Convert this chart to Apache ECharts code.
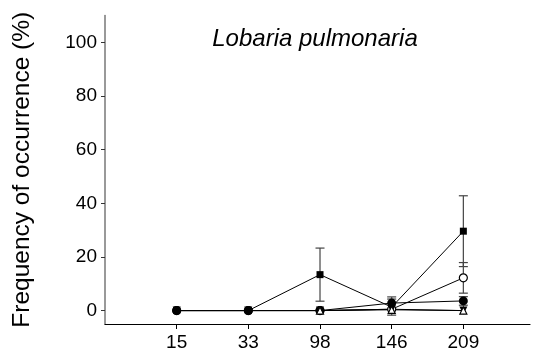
<!DOCTYPE html>
<html>
<head>
<meta charset="utf-8">
<script src="https://cdn.jsdelivr.net/npm/echarts@6/dist/echarts.min.js"></script>
<style>
  html, body { margin: 0; padding: 0; background: #fff; }
  #chart { width: 534px; height: 354px; }
</style>
</head>
<body>
<div id="chart"></div>
<script>
// Sampling sites (x categories)
const categories = ['15', '33', '98', '146', '209'];
const yTicks = [0, 20, 40, 60, 80, 100];

// Frequency of occurrence (%) per marker type, with error half-widths
const squareVals   = [0, 0, 13.4, 1.3, 29.6];
const squareErr    = [0, 0, 9.9, 3.0, 13.2];
const openCircVals = [0, 0, 0, 0.5, 12.2];
const openCircErr  = [0, 0, 0, 0, 5.7];
const fillCircVals = [0, 0, 0, 2.8, 3.6];
const fillCircErr  = [0, 0, 0, 2.3, 1.6];
const downTriVals  = [0, 0, 0, 0.5, 0];
const openTriVals  = [null, null, 0, 0.3, 0];

const toPoints = vals => vals.map((v, i) => [i + 1, v]);

function errorData(vals, errs) {
  const out = [];
  vals.forEach((v, i) => {
    if (v != null && errs[i] > 0) out.push([i + 1, v - errs[i], v + errs[i]]);
  });
  return out;
}

const errorRows = []
  .concat(errorData(squareVals, squareErr))
  .concat(errorData(openCircVals, openCircErr))
  .concat(errorData(fillCircVals, fillCircErr));

function renderErrorBar(params, api) {
  const x = api.value(0);
  const lo = api.coord([x, api.value(1)]);
  const hi = api.coord([x, api.value(2)]);
  const half = 4.5;
  const style = { stroke: '#444', lineWidth: 1.2, fill: null };
  return {
    type: 'group',
    children: [
      { type: 'line', shape: { x1: hi[0], y1: hi[1], x2: lo[0], y2: lo[1] }, style },
      { type: 'line', shape: { x1: hi[0] - half, y1: hi[1], x2: hi[0] + half, y2: hi[1] }, style },
      { type: 'line', shape: { x1: lo[0] - half, y1: lo[1], x2: lo[0] + half, y2: lo[1] }, style }
    ]
  };
}

function lineSeries(name, vals, symbol, size, filled, extra) {
  return Object.assign({
    name,
    type: 'line',
    data: toPoints(vals),
    symbol,
    symbolSize: size,
    showAllSymbol: true,
    connectNulls: false,
    lineStyle: { color: '#000', width: 1 },
    itemStyle: { color: filled ? '#000' : '#fff', borderColor: '#000', borderWidth: filled ? 0 : 1.2 },
    emphasis: { disabled: true },
    animation: false,
    z: 3
  }, extra || {});
}

const chart = echarts.init(document.getElementById('chart'), null, { renderer: 'canvas' });

chart.setOption({
  backgroundColor: '#fff',
  animation: false,
  title: {
    text: 'Lobaria pulmonaria',
    left: 310,
    top: 22,
    textAlign: 'center',
    textStyle: { fontFamily: 'Liberation Sans, Arial, sans-serif', fontStyle: 'italic', fontWeight: 'normal', fontSize: 24, color: '#000' }
  },
  grid: { left: 105, right: 4, top: 15.5, bottom: 30, containLabel: false },
  xAxis: {
    type: 'value',
    min: 0,
    max: 5.93,
    axisLine: { onZero: false, lineStyle: { color: '#000', width: 1.2 } },
    axisTick: { show: true, inside: false, length: 5, customValues: [1, 2, 3, 4, 5], lineStyle: { color: '#000' } },
    axisLabel: {
      customValues: [1, 2, 3, 4, 5],
      formatter: v => categories[Math.round(v) - 1] || '',
      margin: 9,
      fontFamily: 'Liberation Sans, Arial, sans-serif',
      fontSize: 19,
      color: '#000'
    },
    splitLine: { show: false }
  },
  yAxis: {
    type: 'value',
    min: -5,
    max: 110,
    name: 'Frequency of occurrence (%)',
    nameLocation: 'middle',
    nameGap: 70,
    nameTextStyle: { fontFamily: 'Liberation Sans, Arial, sans-serif', fontSize: 24.5, color: '#000' },
    axisLine: { show: true, onZero: false, lineStyle: { color: '#777', width: 1.5 } },
    axisTick: { show: true, inside: false, length: 4, customValues: yTicks, lineStyle: { color: '#333' } },
    axisLabel: {
      customValues: yTicks,
      margin: 8,
      fontFamily: 'Liberation Sans, Arial, sans-serif',
      fontSize: 19,
      color: '#000'
    },
    splitLine: { show: false }
  },
  series: [
    {
      type: 'custom',
      renderItem: renderErrorBar,
      data: errorRows,
      encode: { x: 0, y: [1, 2] },
      z: 2,
      silent: true,
      animation: false
    },
    lineSeries('square', squareVals, 'rect', 7, true),
    lineSeries('openCircle', openCircVals, 'circle', 8, false),
    lineSeries('downTriangle', downTriVals, 'triangle', 8, true, { symbolRotate: 180 }),
    lineSeries('filledCircle', fillCircVals, 'circle', 9, true),
    lineSeries('openTriangle', openTriVals, 'triangle', 7, false)
  ]
});
</script>
</body>
</html>
